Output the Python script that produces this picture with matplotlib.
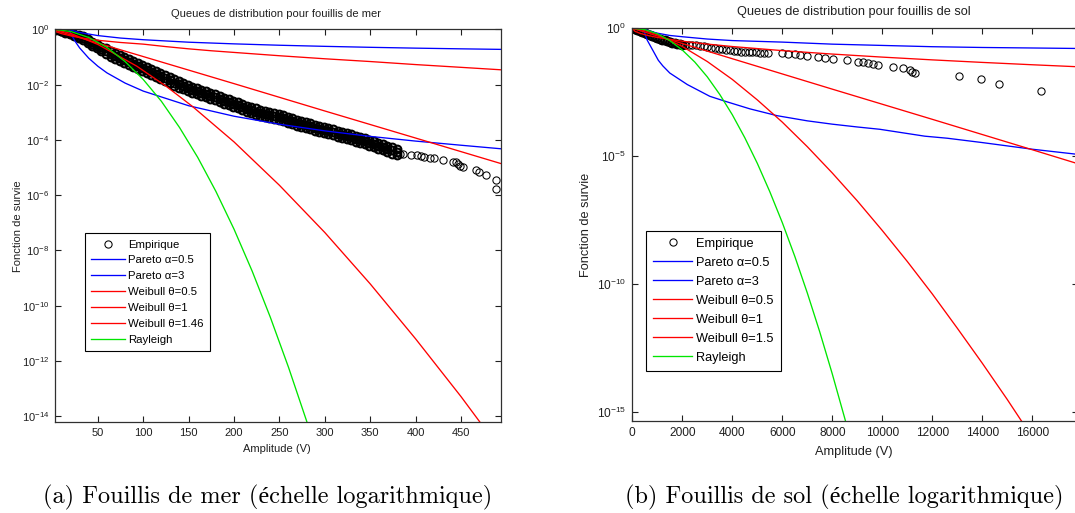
import numpy as np
import matplotlib
matplotlib.use("Agg")
import matplotlib.pyplot as plt
from matplotlib.ticker import NullLocator

plt.rcParams['font.family'] = ['Liberation Sans', 'DejaVu Sans']

# ---------------- Left panel data : sea clutter (log10 of survival) ----------------
mer_band_x = [4, 9, 14, 19, 24, 29, 34, 39, 44, 49, 54, 59, 64, 69, 74, 79, 84, 89, 94, 99,
              104, 109, 114, 119, 124, 129, 134, 139, 144, 149, 154, 159, 164, 169, 174, 179,
              184, 189, 194, 199, 204, 209, 214, 219, 224, 229, 234, 239, 244, 249, 254, 259,
              264, 269, 274, 279, 284, 289, 294, 299, 304, 309, 314, 319, 324, 329, 334, 339,
              344, 349, 354, 359, 364, 369, 374, 379]
mer_band_hi = [0.00, -0.01, -0.05, -0.10, -0.16, -0.21, -0.25, -0.34, -0.44, -0.54, -0.63,
               -0.68, -0.77, -0.86, -0.93, -1.00, -1.06, -1.13, -1.21, -1.29, -1.36, -1.44,
               -1.51, -1.58, -1.66, -1.73, -1.81, -1.88, -1.95, -2.01, -2.07, -2.12, -2.18,
               -2.24, -2.30, -2.35, -2.41, -2.47, -2.53, -2.59, -2.64, -2.70, -2.76, -2.81,
               -2.86, -2.90, -2.94, -2.98, -3.03, -3.07, -3.11, -3.16, -3.21, -3.26, -3.30,
               -3.35, -3.40, -3.45, -3.49, -3.53, -3.57, -3.61, -3.66, -3.70, -3.74, -3.79,
               -3.84, -3.89, -3.94, -4.00, -4.05, -4.10, -4.15, -4.21, -4.27, -4.33]
mer_band_mid = [0.00, -0.04, -0.09, -0.14, -0.20, -0.26, -0.32, -0.41, -0.51, -0.61, -0.70,
                -0.79, -0.88, -0.97, -1.04, -1.11, -1.17, -1.24, -1.32, -1.40, -1.47, -1.55,
                -1.62, -1.69, -1.77, -1.84, -1.92, -1.99, -2.06, -2.12, -2.18, -2.23, -2.29,
                -2.35, -2.41, -2.46, -2.52, -2.58, -2.64, -2.70, -2.75, -2.81, -2.87, -2.92,
                -2.97, -3.01, -3.05, -3.09, -3.14, -3.18, -3.22, -3.27, -3.32, -3.37, -3.41,
                -3.46, -3.51, -3.56, -3.60, -3.64, -3.68, -3.72, -3.77, -3.81, -3.85, -3.90,
                -3.95, -4.00, -4.05, -4.11, -4.16, -4.21, -4.26, -4.32, -4.38, -4.44]
mer_band_lo = [-0.03, -0.07, -0.13, -0.18, -0.24, -0.31, -0.39, -0.48, -0.58, -0.68, -0.77,
               -0.90, -0.99, -1.08, -1.15, -1.22, -1.28, -1.35, -1.43, -1.51, -1.58, -1.66,
               -1.73, -1.80, -1.88, -1.95, -2.03, -2.10, -2.17, -2.23, -2.29, -2.34, -2.40,
               -2.46, -2.52, -2.57, -2.63, -2.69, -2.75, -2.81, -2.86, -2.92, -2.98, -3.03,
               -3.08, -3.12, -3.16, -3.20, -3.25, -3.29, -3.33, -3.38, -3.43, -3.48, -3.52,
               -3.57, -3.62, -3.67, -3.71, -3.75, -3.79, -3.83, -3.88, -3.92, -3.96, -4.01,
               -4.06, -4.11, -4.16, -4.22, -4.27, -4.32, -4.37, -4.43, -4.49, -4.55]
mer_tail_x = [383, 386, 395, 401, 406, 409, 416, 420, 430, 441, 444, 447, 449, 452, 466,
              470, 478, 488, 489]
mer_tail_y = [-4.50, -4.52, -4.54, -4.56, -4.58, -4.62, -4.64, -4.66, -4.74, -4.80, -4.80,
              -4.86, -4.95, -4.98, -5.08, -5.15, -5.26, -5.45, -5.76]

mer_p05_x = [18, 30, 50, 75, 100, 150, 200, 250, 300, 350, 400, 450, 494.6]
mer_p05_y = [0.0, -0.11, -0.22, -0.31, -0.37, -0.46, -0.52, -0.57, -0.61, -0.645, -0.675, -0.70, -0.72]
mer_p3_x = [18, 20, 25, 30, 40, 50, 60, 80, 100, 150, 200, 250, 300, 350, 400, 450, 494.6]
mer_p3_y = [0.0, -0.14, -0.43, -0.67, -1.04, -1.33, -1.57, -1.94, -2.23, -2.76, -3.14, -3.43,
            -3.67, -3.87, -4.04, -4.19, -4.32]
mer_w05_x = [3, 10, 20, 35, 50, 75, 100, 125, 150, 175, 200, 250, 300, 350, 400, 450, 494.6]
mer_w05_y = [-0.07, -0.15, -0.23, -0.32, -0.39, -0.47, -0.53, -0.62, -0.70, -0.77, -0.83,
             -0.95, -1.06, -1.16, -1.27, -1.37, -1.46]
mer_w1_x = [3, 100, 200, 300, 400, 494.6]
mer_w1_y = [-0.03, -0.98, -1.96, -2.95, -3.93, -4.86]
mer_w146_x = [3, 20, 50, 93, 125, 154, 200, 250, 300, 350, 400, 450, 494]
mer_w146_y = [-0.01, -0.14, -0.54, -1.33, -2.05, -2.78, -4.07, -5.64, -7.35, -9.21, -11.2,
              -13.29, -15.24]
mer_ray_x = [3, 20, 40, 60, 80, 100, 120, 140, 160, 180, 200, 220, 240, 260, 280, 290]
mer_ray_y = [0.0, -0.07, -0.29, -0.65, -1.16, -1.81, -2.60, -3.55, -4.63, -5.86, -7.23,
             -8.75, -10.42, -12.23, -14.18, -15.21]

# ---------------- Right panel data : ground clutter ----------------
sol_band_x = [0, 100, 200, 300, 400, 500, 600, 700, 800, 900, 1000, 1100, 1200, 1300, 1400,
              1500, 1600, 1700, 1800, 1900, 2000]
sol_band_y = [0.00, -0.03, -0.07, -0.11, -0.15, -0.19, -0.23, -0.27, -0.31, -0.345, -0.38,
              -0.41, -0.44, -0.47, -0.50, -0.53, -0.56, -0.585, -0.61, -0.63, -0.645]
sol_emp_x = [2100, 2250, 2400, 2550, 2700, 2850, 3000, 3150, 3300, 3450, 3600, 3750, 3900,
             4050, 4200, 4350, 4500, 4650, 4800, 4950, 5100, 5250, 5440,
             5976, 6240, 6508, 6708, 6976, 7440, 7708, 8040, 8576, 9040, 9240, 9440, 9640,
             9840, 10440, 10840, 11108, 11200, 11308, 13050, 13960, 14650, 16340]
sol_emp_y = [-0.64, -0.65, -0.66, -0.67, -0.69, -0.71, -0.74, -0.77, -0.79, -0.81, -0.82,
             -0.83, -0.85, -0.87, -0.89, -0.91, -0.92, -0.935, -0.94, -0.945, -0.95, -0.96,
             -0.98,
             -0.978, -1.005, -1.017, -1.045, -1.084, -1.135, -1.174, -1.20, -1.24, -1.306,
             -1.33, -1.37, -1.40, -1.436, -1.526, -1.565, -1.63, -1.69, -1.76, -1.87, -2.00,
             -2.18, -2.46]

sol_p05_x = [420, 700, 1000, 1500, 2000, 3000, 4000, 6000, 8000, 10000, 12000, 14000, 16000, 17900]
sol_p05_y = [0.0, -0.11, -0.19, -0.28, -0.33, -0.42, -0.48, -0.54, -0.62, -0.67, -0.72, -0.75, -0.77, -0.79]
sol_p3_x = [420, 600, 815, 1040, 1220, 1500, 2200, 3100, 3700, 4700, 5800, 7000, 8000, 9000,
            9900, 11700, 12600, 14000, 16000, 17900]
sol_p3_y = [0.0, -0.47, -0.85, -1.25, -1.47, -1.75, -2.20, -2.66, -2.85, -3.15, -3.42, -3.62,
            -3.75, -3.86, -3.95, -4.22, -4.30, -4.47, -4.73, -4.94]
sol_w05_x = [0, 100, 300, 600, 1000, 2000, 3000, 4000, 6000, 8000, 10000, 12000, 14000, 16000, 17900]
sol_w05_y = [0.0, -0.113, -0.195, -0.276, -0.357, -0.504, -0.617, -0.713, -0.873, -1.008,
             -1.127, -1.235, -1.334, -1.426, -1.508]
sol_w1_x = [0, 4000, 8000, 12000, 16000, 17900]
sol_w1_y = [0.0, -1.19, -2.38, -3.56, -4.75, -5.32]
sol_w15_x = [0, 500, 1000, 2000, 3000, 4000, 5000, 6000, 7000, 8000, 9000, 10000, 11000,
             12000, 13000, 14000, 15000, 16000]
sol_w15_y = [0.0, -0.09, -0.25, -0.71, -1.30, -2.00, -2.80, -3.67, -4.63, -5.66, -6.75,
             -7.91, -9.12, -10.39, -11.73, -13.10, -14.52, -16.0]
sol_ray_x = [0, 500, 1000, 1500, 2000, 2500, 3000, 3500, 4000, 4500, 5000, 5500, 6000, 6500,
             7000, 7500, 8000, 8500, 8700]
sol_ray_y = [0.0, -0.05, -0.21, -0.48, -0.85, -1.32, -1.90, -2.59, -3.38, -4.28, -5.28, -6.39,
             -7.60, -8.92, -10.35, -11.88, -13.52, -15.26, -15.99]

labels_mer = ['Empirique', 'Pareto α=0.5', 'Pareto α=3', 'Weibull θ=0.5', 'Weibull θ=1',
              'Weibull θ=1.46', 'Rayleigh']
labels_sol = ['Empirique', 'Pareto α=0.5', 'Pareto α=3', 'Weibull θ=0.5', 'Weibull θ=1',
              'Weibull θ=1.5', 'Rayleigh']

BLUE, RED, GREEN = (0, 0, 1), (1, 0, 0), (0, 0.9, 0)

fig = plt.figure(figsize=(10.75, 5.13), dpi=100)
axL = fig.add_axes([0.05116, 0.17739, 0.41535, 0.76511])
axR = fig.add_axes([0.58819, 0.17992, 0.41460, 0.76491])


def draw(ax, band_x, band_rows, emp_x, emp_y, curves, labels):
    for row in band_rows:
        ax.plot(band_x, 10 ** np.asarray(row), ls='none', marker='o', ms=5.6, mfc='none',
                mec='black', mew=1.5, label='_nolegend_')
    ax.plot(emp_x, 10 ** np.asarray(emp_y), ls='none', marker='o', ms=5.2, mfc='none',
            mec='black', mew=0.75, label=labels[0])
    cols = [BLUE, BLUE, RED, RED, RED, GREEN]
    for (cx, cy), c, lab in zip(curves, cols, labels[1:]):
        ax.plot(cx, 10 ** np.asarray(cy), color=c, lw=0.95, label=lab)
    ax.set_yscale('log')
    ax.yaxis.set_minor_locator(NullLocator())
    ax.xaxis.set_minor_locator(NullLocator())
    for s in ax.spines.values():
        s.set_color('#303030')
        s.set_linewidth(0.9)


draw(axL, mer_band_x, [mer_band_hi, mer_band_mid, mer_band_lo], mer_tail_x, mer_tail_y,
     [(mer_p05_x, mer_p05_y), (mer_p3_x, mer_p3_y), (mer_w05_x, mer_w05_y),
      (mer_w1_x, mer_w1_y), (mer_w146_x, mer_w146_y), (mer_ray_x, mer_ray_y)], labels_mer)
draw(axR, sol_band_x, [sol_band_y], sol_emp_x, sol_emp_y,
     [(sol_p05_x, sol_p05_y), (sol_p3_x, sol_p3_y), (sol_w05_x, sol_w05_y),
      (sol_w1_x, sol_w1_y), (sol_w15_x, sol_w15_y), (sol_ray_x, sol_ray_y)], labels_sol)

# Left axis settings
axL.set_xlim(2.8, 494.6)
axL.set_ylim(10 ** -14.21, 1)
axL.set_xticks([50, 100, 150, 200, 250, 300, 350, 400, 450])
axL.set_yticks([10.0 ** k for k in (0, -2, -4, -6, -8, -10, -12, -14)])
axL.tick_params(which='both', direction='in', length=4, width=0.8, top=True, right=True,
                labelsize=8, pad=4, colors='#202020')

axR.set_xlim(0, 17830)
axR.set_ylim(10 ** -15.35, 1)
axR.set_xticks([0, 2000, 4000, 6000, 8000, 10000, 12000, 14000, 16000])
axR.set_yticks([1, 1e-5, 1e-10, 1e-15])
axR.tick_params(which='both', direction='in', length=4, width=0.8, top=True, right=True,
                labelsize=8.6, pad=4.5, colors='#202020')

# Titles
axL.text(0.4956, 1.0387, 'Queues de distribution pour fouillis de mer', transform=axL.transAxes,
         ha='center', va='center', fontsize=8, color='#202020')
axR.text(0.4979, 1.0423, 'Queues de distribution pour fouillis de sol', transform=axR.transAxes,
         ha='center', va='center', fontsize=9.2, color='#202020')

# Axis labels
axL.set_xlabel('Amplitude (V)', fontsize=8, color='#202020')
axL.xaxis.set_label_coords(0.4966, -0.0696)
axL.xaxis.label.set_va('center')
axL.set_ylabel('Fonction de survie', fontsize=8, color='#202020')
axL.yaxis.set_label_coords(-0.0831, 0.5)
axL.yaxis.label.set_va('center')

axR.set_xlabel('Amplitude (V)', fontsize=9.2, color='#202020')
axR.xaxis.set_label_coords(0.496, -0.0805)
axR.xaxis.label.set_va('center')
axR.set_ylabel('Fonction de survie', fontsize=9.2, color='#202020')
axR.yaxis.set_label_coords(-0.1039, 0.5)
axR.yaxis.label.set_va('center')

# Legends
legL = axL.legend(loc='upper left', bbox_to_anchor=(0.0663, 0.4808), borderaxespad=0,
                  fontsize=8.2, handlelength=3.0, handletextpad=0.3, labelspacing=0.52,
                  borderpad=0.55, numpoints=1, fancybox=False, framealpha=1, edgecolor='black')
legL.get_frame().set_linewidth(0.8)
legR = axR.legend(loc='upper left', bbox_to_anchor=(0.0316, 0.4842), borderaxespad=0,
                  fontsize=9.2, handlelength=3.0, handletextpad=0.37, labelspacing=0.55,
                  borderpad=0.55, numpoints=1, fancybox=False, framealpha=1, edgecolor='black')
legR.get_frame().set_linewidth(0.8)

# Captions
cap_font = ['cmr10', 'Liberation Serif']
fig.text(42.7 / 1075, 1 - 497 / 513, '(a) Fouillis de mer (échelle logarithmique)',
         family=cap_font, fontsize=17.5, ha='left', va='center')
fig.text(625 / 1075, 1 - 497 / 513, '(b) Fouillis de sol (échelle logarithmique)',
         family=cap_font, fontsize=17.5, ha='left', va='center')

fig.savefig('out.png', dpi=100)
